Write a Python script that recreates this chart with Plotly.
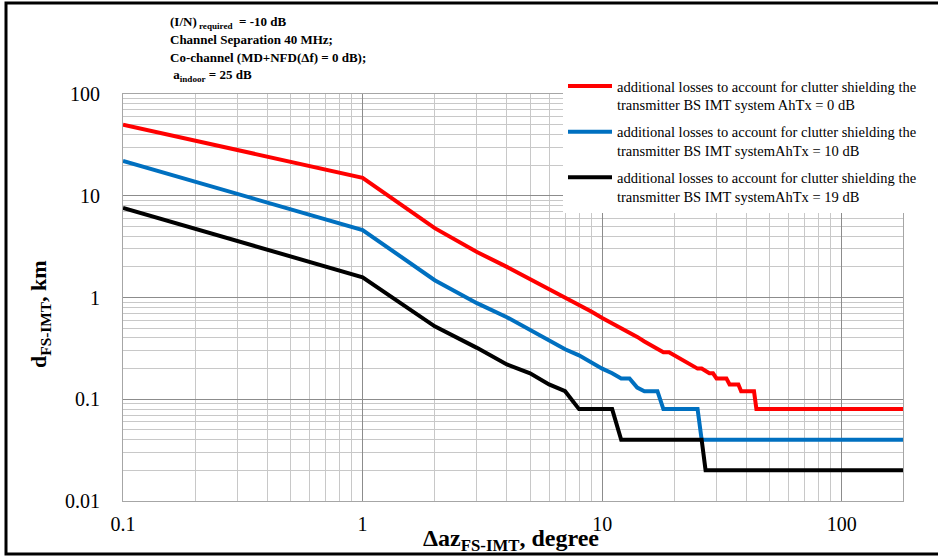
import plotly.graph_objects as go

# Azimuth offsets (degrees)
angles = [0.1] + list(range(1, 46)) + [180]

# d_FS-IMT (km) for each clutter loss case
d_ahtx_0 = [50, 15, 4.8, 2.8, 2.0, 1.52, 1.22, 1.0, 0.85, 0.73, 0.63,
            0.56, 0.5, 0.45, 0.41, 0.37, 0.34, 0.32, 0.29, 0.29, 0.27,
            0.25, 0.24, 0.22, 0.21, 0.2, 0.2, 0.19, 0.18, 0.18, 0.16,
            0.16, 0.16, 0.16, 0.14, 0.14, 0.14, 0.14, 0.12, 0.12, 0.12,
            0.12, 0.12, 0.12, 0.08, 0.08, 0.08]
d_ahtx_10 = [22, 4.6, 1.48, 0.88, 0.64, 0.48, 0.37, 0.31, 0.27, 0.23, 0.2,
             0.18, 0.16, 0.16, 0.13, 0.12, 0.12, 0.12, 0.08, 0.08, 0.08,
             0.08, 0.08, 0.08, 0.08, 0.08, 0.04, 0.04, 0.04, 0.04, 0.04,
             0.04, 0.04, 0.04, 0.04, 0.04, 0.04, 0.04, 0.04, 0.04, 0.04,
             0.04, 0.04, 0.04, 0.04, 0.04, 0.04]
d_ahtx_19 = [7.6, 1.58, 0.52, 0.32, 0.22, 0.18, 0.14, 0.12, 0.08, 0.08, 0.08,
             0.08, 0.04, 0.04, 0.04, 0.04, 0.04, 0.04, 0.04, 0.04, 0.04,
             0.04, 0.04, 0.04, 0.04, 0.04, 0.04, 0.02, 0.02, 0.02, 0.02,
             0.02, 0.02, 0.02, 0.02, 0.02, 0.02, 0.02, 0.02, 0.02, 0.02,
             0.02, 0.02, 0.02, 0.02, 0.02, 0.02]

series_names = [
    "additional losses to account for clutter shielding the<br>transmitter BS IMT system AhTx = 0 dB",
    "additional losses to account for clutter shielding the<br>transmitter BS IMT systemAhTx = 10 dB",
    "additional losses to account for clutter shielding the<br>transmitter BS IMT systemAhTx = 19 dB",
]
series_colors = ["#FF0000", "#0070C0", "#000000"]
series_values = [d_ahtx_0, d_ahtx_10, d_ahtx_19]

x_tick_vals = [0.1, 1, 10, 100]
x_tick_text = ["0.1", "1", "10", "100"]
y_tick_vals = [0.01, 0.1, 1, 10, 100]
y_tick_text = ["0.01", "0.1", "1", "10", "100"]

info_lines = [
    "<b>(I/N)<sub> required</sub>  = -10 dB</b>",
    "<b>Channel Separation 40 MHz;</b>",
    "<b>Co-channel (MD+NFD(Δf) = 0 dB);</b>",
    "<b> a<sub>indoor</sub> = 25 dB</b>",
]

W, H = 938, 556
ML, MR, MT, MB = 123, 35, 94, 55
PW, PH = W - ML - MR, H - MT - MB

def px_x(p):
    return (p - ML) / PW

def px_y(p):
    return (H - MB - p) / PH

FONT = "Liberation Serif"

fig = go.Figure()
for i, (name, col, vals) in enumerate(zip(series_names, series_colors, series_values)):
    fig.add_trace(go.Scatter(
        x=angles, y=vals, mode="lines", name=name,
        legendgroup=f"g{i}",
        line=dict(color=col, width=4),
    ))

axis_common = dict(
    type="log",
    showline=True, linecolor="#a6a6a6", linewidth=1, mirror=True,
    showgrid=True, gridcolor="#8c8c8c", gridwidth=1,
    zeroline=False, ticks="",
    tickfont=dict(family=FONT, size=20, color="#000000"),
    minor=dict(dtick="D1", showgrid=True, gridcolor="#c8c8c8", gridwidth=1, ticks=""),
)

fig.update_xaxes(
    **axis_common,
    range=[-1, 2.2553],
    tickmode="array", tickvals=x_tick_vals, ticktext=x_tick_text,
    ticklabelstandoff=5,
)
fig.update_yaxes(
    **axis_common,
    range=[-2, 2],
    tickmode="array", tickvals=y_tick_vals, ticktext=y_tick_text,
    ticklabelstandoff=18,
)

annotations = []
for k, (line_txt, yc) in enumerate(zip(info_lines, [22, 40, 58, 76])):
    annotations.append(dict(
        text=line_txt, xref="paper", yref="paper", x=px_x(168), y=px_y(yc),
        xanchor="left", yanchor="middle", align="left", showarrow=False,
        font=dict(family=FONT, size=13, color="#000000"),
    ))
annotations.append(dict(
    text="<b>Δaz<sub>FS-IMT</sub>, degree</b>",
    xref="paper", yref="paper", x=px_x(511), y=px_y(540),
    xanchor="center", yanchor="middle", showarrow=False,
    font=dict(family=FONT, size=24, color="#000000"),
))
annotations.append(dict(
    text="<b>d<sub>FS-IMT</sub>, km</b>",
    xref="paper", yref="paper", x=px_x(40), y=px_y(314),
    xanchor="center", yanchor="middle", showarrow=False, textangle=-90,
    font=dict(family=FONT, size=22, color="#000000"),
))

fig.update_layout(
    width=W, height=H,
    margin=dict(l=ML, r=MR, t=MT, b=MB, autoexpand=False),
    paper_bgcolor="white", plot_bgcolor="white",
    font=dict(family=FONT, color="#000000"),
    showlegend=True,
    legend=dict(
        x=px_x(563), y=px_y(70), xanchor="left", yanchor="top",
        bgcolor="white", borderwidth=0, itemwidth=44,
        font=dict(family=FONT, size=14.5, color="#000000"),
        valign="top", tracegroupgap=5, traceorder="grouped",
    ),
    annotations=annotations,
    shapes=[
        dict(type="rect", xref="paper", yref="paper",
             x0=px_x(6), x1=px_x(970), y0=px_y(554), y1=px_y(3),
             line=dict(color="#000000", width=3), fillcolor="rgba(0,0,0,0)",
             layer="above"),
    ],
)

fig.write_html("out.html", config={"displayModeBar": False},
               post_script="document.body.style.margin='0px';document.body.style.padding='0px';")
